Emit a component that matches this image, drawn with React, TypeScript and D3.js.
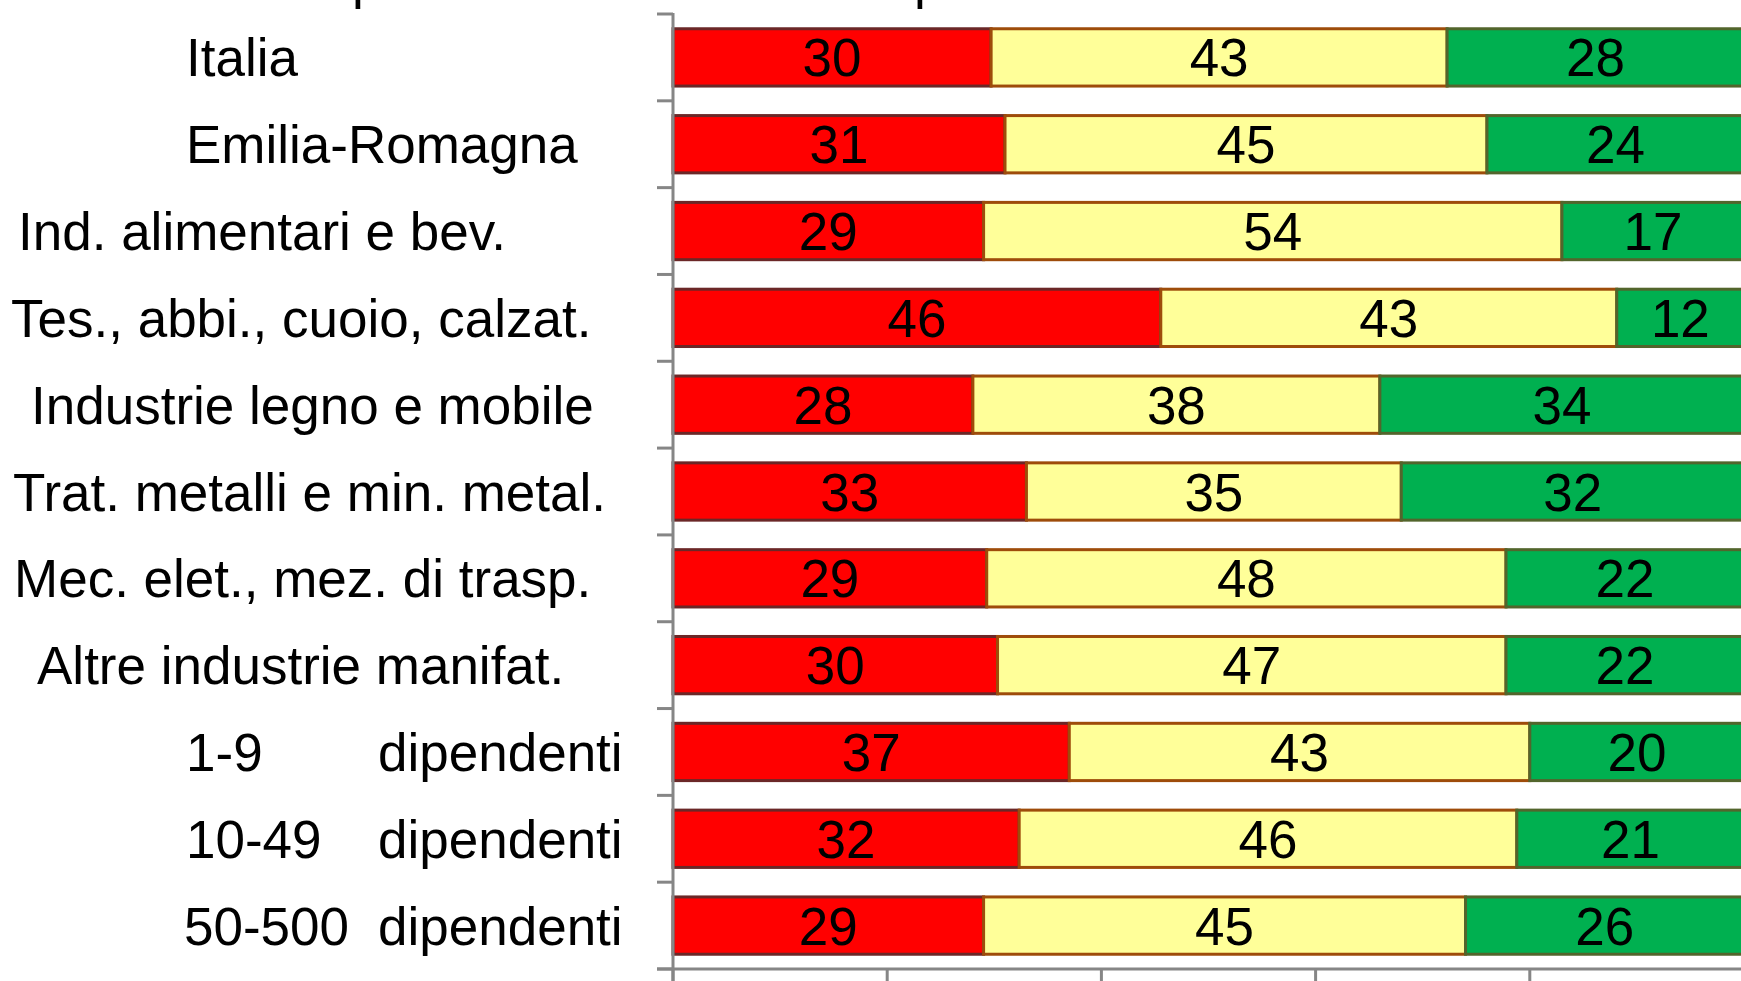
import React, { useEffect, useRef } from 'react';
import * as d3 from 'd3';

// categories, top to bottom
const categories = [
  'Italia',
  'Emilia-Romagna',
  'Ind. alimentari e bev.',
  'Tes., abbi., cuoio, calzat.',
  'Industrie legno e mobile',
  'Trat. metalli e min. metal.',
  'Mec. elet., mez. di trasp.',
  'Altre industrie manifat.',
  '1-9 dipendenti',
  '10-49 dipendenti',
  '50-500 dipendenti',
];

// three series (percent shares, rounded as printed)
const redValues = [30, 31, 29, 46, 28, 33, 29, 30, 37, 32, 29];
const yellowValues = [43, 45, 54, 43, 38, 35, 48, 47, 43, 46, 45];
const greenValues = [28, 24, 17, 12, 34, 32, 22, 22, 20, 21, 26];

const seriesKeys = ['red', 'yellow', 'green'];
const xTicks = [0, 0.2, 0.4, 0.6, 0.8, 1];

// clipped title at the top edge (only descenders show)
const titleWords = ['previsioni', 'prossimi mesi'];

const WIDTH = 1741;
const HEIGHT = 981;
const FONT = '"Liberation Sans", Arial, sans-serif';

const fills = { red: '#FF0000', yellow: '#FFFF99', green: '#00B050' };
const strokes = { red: '#6B2727', yellow: '#9E4C0A', green: '#52652C' };

// hand-tuned label placement (left edge of each label)
const labelLeft = [186, 186, 18, 11, 31, 13, 14, 37, 186, 186, 184];
const unitWordX = 378;

const App = () => {
  const ref = useRef(null);

  useEffect(() => {
    document.body.style.margin = '0';
    const svg = d3.select(ref.current);
    svg.selectAll('*').remove();

    const table = categories.map((c, i) => ({
      cat: c,
      red: redValues[i],
      yellow: yellowValues[i],
      green: greenValues[i],
    }));

    const x = d3.scaleLinear().domain([0, 1]).range([673, 1744]);
    const y = d3.scaleBand()
      .domain(categories)
      .range([14, 969])
      .paddingInner(0.34)
      .paddingOuter(0.17);

    // 100% stacked bars
    const stack = d3.stack().keys(seriesKeys).offset(d3.stackOffsetExpand);
    const layers = stack(table);

    const g = svg.append('g');
    layers.forEach(layer => {
      g.append('g')
        .selectAll('rect')
        .data(layer)
        .join('rect')
        .attr('x', d => x(d[0]))
        .attr('y', d => y(d.data.cat))
        .attr('width', d => x(d[1]) - x(d[0]))
        .attr('height', y.bandwidth())
        .attr('fill', fills[layer.key])
        .attr('stroke', strokes[layer.key])
        .attr('stroke-width', 3);
    });

    // data labels
    layers.forEach(layer => {
      g.append('g')
        .selectAll('text')
        .data(layer)
        .join('text')
        .attr('x', d => (x(d[0]) + x(d[1])) / 2)
        .attr('y', d => y(d.data.cat) + y.bandwidth() / 2)
        .attr('dy', '0.36em')
        .attr('text-anchor', 'middle')
        .style('font-family', FONT)
        .style('font-size', '53px')
        .style('fill', '#000')
        .text(d => d.data[layer.key]);
    });

    // axes
    const axisColor = '#868686';
    const step = y.step();
    const gapHalf = (step * y.paddingInner()) / 2;
    const bounds = categories.map(c => y(c) - gapHalf).concat([969]);

    const ax = svg.append('g').attr('stroke', axisColor).attr('stroke-width', 3);
    ax.append('line').attr('x1', x(0)).attr('x2', x(0)).attr('y1', 13).attr('y2', HEIGHT);
    ax.selectAll('.ytick')
      .data(bounds)
      .join('line')
      .attr('x1', x(0) - 16)
      .attr('x2', x(0))
      .attr('y1', d => d)
      .attr('y2', d => d);
    ax.append('line').attr('x1', x(0) - 16).attr('x2', WIDTH).attr('y1', 969).attr('y2', 969);
    ax.selectAll('.xtick')
      .data(xTicks)
      .join('line')
      .attr('x1', d => x(d))
      .attr('x2', d => x(d))
      .attr('y1', 969)
      .attr('y2', HEIGHT + 5);

    // category labels
    const labels = svg.append('g')
      .style('font-family', FONT)
      .style('font-size', '53px')
      .style('fill', '#000');
    categories.forEach((c, i) => {
      const cy = y(c) + y.bandwidth() / 2;
      const t = labels.append('text')
        .attr('y', cy)
        .attr('dy', '0.36em');
      if (c.endsWith('dipendenti')) {
        const parts = c.split(' ');
        t.append('tspan').attr('x', labelLeft[i]).text(parts[0]);
        t.append('tspan').attr('x', unitWordX).text(parts[1]);
      } else {
        t.attr('x', labelLeft[i]).text(c);
      }
    });

    // title, sitting above the visible area: only descenders reach into the frame
    const title = svg.append('text')
      .attr('y', -2)
      .style('font-family', FONT)
      .style('font-size', '53px')
      .style('fill', '#000');
    title.append('tspan').attr('x', 352).text(titleWords[0]);
    title.append('tspan').attr('x', 914).text(titleWords[1]);
  }, []);

  return (
    <svg
      ref={ref}
      width={WIDTH}
      height={HEIGHT}
      style={{ display: 'block', background: '#fff' }}
    />
  );
};

export default App;
